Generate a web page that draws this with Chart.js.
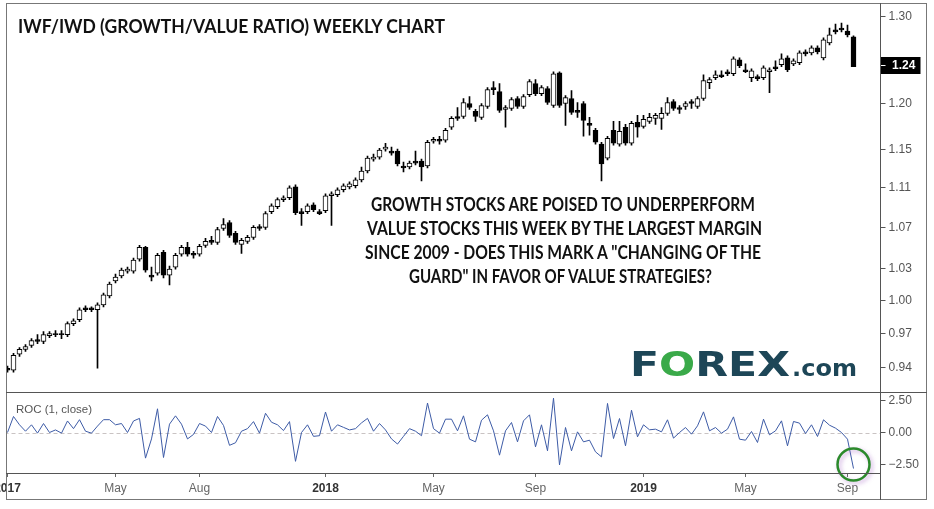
<!DOCTYPE html>
<html>
<head>
<meta charset="utf-8">
<script src="https://cdn.jsdelivr.net/npm/chart.js@4.4.0/dist/chart.umd.min.js"></script>
<style>
  html, body { margin: 0; padding: 0; background: #fff; overflow: hidden; }
  #wrap { position: relative; width: 934px; height: 509px; }
  .pane { position: absolute; left: 0; width: 934px; }
  .line { position: absolute; background: #555; pointer-events: none; }
  .txt { position: absolute; white-space: nowrap; transform-origin: 0 0; pointer-events: none; }
  .note { font: bold 18px/18px Lato, "Open Sans", sans-serif; color: #111; }
</style>
</head>
<body>
<div id="wrap">
  <div class="pane" style="top:0;height:392px"><canvas id="priceChart"></canvas></div>
  <div class="pane" style="top:392px;height:117px"><canvas id="rocChart"></canvas></div>

  <!-- frame + panel lines -->
  <div style="position:absolute;left:0;top:0;width:6px;height:473px;background:#fff"></div>
  <div style="position:absolute;left:6px;top:3px;width:921px;height:497px;border:1px solid #777;box-sizing:border-box;pointer-events:none"></div>
  <div class="line" style="left:880px;top:3px;width:1px;height:497px"></div>
  <div class="line" style="left:6px;top:392px;width:921px;height:1px"></div>
  <div class="line" style="left:6px;top:473px;width:874px;height:1px"></div>

  <!-- texts -->
  <div id="title" class="txt note" style="left:18px;top:17px">IWF/IWD (GROWTH/VALUE RATIO) WEEKLY CHART</div>
  <div id="n1" class="txt note" style="left:371px;top:195px">GROWTH STOCKS ARE POISED TO UNDERPERFORM</div>
  <div id="n2" class="txt note" style="left:367px;top:219px">VALUE STOCKS THIS WEEK BY THE LARGEST MARGIN</div>
  <div id="n3" class="txt note" style="left:365px;top:243px">SINCE 2009 - DOES THIS MARK A "CHANGING OF THE</div>
  <div id="n4" class="txt note" style="left:409px;top:267px">GUARD" IN FAVOR OF VALUE STRATEGIES?</div>
  <div id="rocLabel" class="txt" style="left:16px;top:403px;font:11px/12px 'Liberation Sans', Arial, sans-serif;color:#555">ROC (1, close)</div>

  <div id="logoMain" class="txt" style="left:630px;top:348px;font:bold 33px/33px 'DejaVu Sans', sans-serif;color:#1d4657">F<span style="color:#3aaa49">O</span>REX</div>
  <div id="logoCom" class="txt" style="left:792px;top:357px;font:bold 23px/23px 'DejaVu Sans', sans-serif;color:#1d4657">.com</div>
</div>

<script>
// weekly candles, Jan 2017 - Sep 2019
const opens = [
  0.9396, 0.9379, 0.9518, 0.9561, 0.9596, 0.9649, 0.9631, 0.9684, 0.9702, 0.9702,
  0.9693, 0.9791, 0.9827, 0.9936, 0.9936, 0.9918, 0.9963, 1.0045, 1.0185, 1.0232,
  1.0279, 1.0279, 1.0392, 1.0507, 1.0241, 1.0260, 1.0459, 1.0241, 1.0316, 1.0440,
  1.0507, 1.0449, 1.0440, 1.0526, 1.0575, 1.0556, 1.0692, 1.0751, 1.0643, 1.0536,
  1.0565, 1.0604, 1.0711, 1.0702, 1.0860, 1.0909, 1.0980, 1.1000, 1.1111, 1.0860,
  1.0860, 1.0929, 1.0860, 1.0869, 1.1020, 1.1030, 1.1081, 1.1111, 1.1122, 1.1183,
  1.1275, 1.1400, 1.1421, 1.1505, 1.1484, 1.1484, 1.1327, 1.1317, 1.1379, 1.1379,
  1.1327, 1.1589, 1.1611, 1.1600, 1.1740, 1.1858, 1.1858, 1.2001, 1.1913, 1.1848,
  1.1968, 1.2179, 1.2134, 1.1935, 1.1946, 1.2056, 1.1968, 1.2100, 1.2223, 1.2111,
  1.2167, 1.1979, 1.2347, 1.2001, 1.2056, 1.1924, 1.2001, 1.1783, 1.1707, 1.1558,
  1.1410, 1.1707, 1.1558, 1.1740, 1.1568, 1.1793, 1.1750, 1.1804, 1.1837, 1.1837,
  1.1891, 1.2023, 1.1957, 1.1968, 1.2023, 1.1968, 1.2056, 1.2234, 1.2291, 1.2324,
  1.2358, 1.2335, 1.2495, 1.2381, 1.2291, 1.2302, 1.2291, 1.2358, 1.2415, 1.2438,
  1.2518, 1.2449, 1.2461, 1.2588, 1.2576, 1.2634, 1.2518, 1.2692, 1.2845, 1.2868,
  1.2833, 1.2763
];
const highs = [
  0.9414, 0.9526, 0.9578, 0.9604, 0.9657, 0.9693, 0.9720, 0.9720, 0.9729, 0.9729,
  0.9809, 0.9836, 0.9936, 0.9954, 0.9945, 0.9982, 1.0073, 1.0176, 1.0251, 1.0307,
  1.0316, 1.0402, 1.0526, 1.0517, 1.0316, 1.0449, 1.0478, 1.0326, 1.0449, 1.0526,
  1.0556, 1.0468, 1.0536, 1.0594, 1.0614, 1.0702, 1.0790, 1.0770, 1.0663, 1.0594,
  1.0624, 1.0721, 1.0731, 1.0860, 1.0939, 1.1000, 1.1020, 1.1122, 1.1132, 1.0889,
  1.0939, 1.0949, 1.0879, 1.1040, 1.1060, 1.1101, 1.1142, 1.1162, 1.1203, 1.1317,
  1.1431, 1.1452, 1.1515, 1.1568, 1.1526, 1.1505, 1.1369, 1.1379, 1.1484, 1.1400,
  1.1600, 1.1632, 1.1643, 1.1729, 1.1858, 1.1957, 1.2056, 1.2078, 1.1935, 1.2001,
  1.2179, 1.2246, 1.2223, 1.1979, 1.2067, 1.2078, 1.2100, 1.2268, 1.2268, 1.2201,
  1.2190, 1.2358, 1.2358, 1.2089, 1.2145, 1.2012, 1.2023, 1.1848, 1.1729, 1.1579,
  1.1643, 1.1804, 1.1804, 1.1772, 1.1804, 1.1869, 1.1869, 1.1891, 1.1891, 1.1957,
  1.2067, 1.2045, 1.1979, 1.2023, 1.2045, 1.2078, 1.2324, 1.2291, 1.2370, 1.2370,
  1.2381, 1.2530, 1.2518, 1.2449, 1.2393, 1.2324, 1.2427, 1.2404, 1.2484, 1.2565,
  1.2541, 1.2507, 1.2599, 1.2611, 1.2657, 1.2657, 1.2751, 1.2868, 1.2916, 1.2928,
  1.2904, 1.2774
];
const lows = [
  0.9362, 0.9362, 0.9500, 0.9544, 0.9578, 0.9613, 0.9613, 0.9666, 0.9675, 0.9657,
  0.9675, 0.9773, 0.9809, 0.9900, 0.9900, 0.9396, 0.9945, 1.0027, 1.0166, 1.0213,
  1.0260, 1.0260, 1.0373, 1.0269, 1.0185, 1.0241, 1.0213, 1.0148, 1.0298, 1.0421,
  1.0421, 1.0402, 1.0421, 1.0507, 1.0536, 1.0536, 1.0672, 1.0604, 1.0536, 1.0449,
  1.0546, 1.0585, 1.0672, 1.0682, 1.0840, 1.0889, 1.0960, 1.0980, 1.0830, 1.0721,
  1.0840, 1.0860, 1.0830, 1.0850, 1.0721, 1.1010, 1.1060, 1.1091, 1.1101, 1.1162,
  1.1254, 1.1379, 1.1400, 1.1484, 1.1442, 1.1327, 1.1265, 1.1296, 1.1338, 1.1173,
  1.1306, 1.1568, 1.1558, 1.1579, 1.1718, 1.1815, 1.1837, 1.1935, 1.1804, 1.1826,
  1.1946, 1.2100, 1.1902, 1.1740, 1.1924, 1.1946, 1.1946, 1.2078, 1.2089, 1.2089,
  1.1990, 1.1957, 1.1957, 1.1761, 1.1880, 1.1848, 1.1643, 1.1654, 1.1558, 1.1173,
  1.1390, 1.1547, 1.1537, 1.1547, 1.1547, 1.1632, 1.1729, 1.1783, 1.1772, 1.1718,
  1.1869, 1.1924, 1.1891, 1.1935, 1.1946, 1.1946, 1.2034, 1.2167, 1.2268, 1.2291,
  1.2313, 1.2313, 1.2404, 1.2347, 1.2246, 1.2257, 1.2268, 1.2122, 1.2370, 1.2415,
  1.2358, 1.2427, 1.2438, 1.2541, 1.2553, 1.2565, 1.2495, 1.2669, 1.2798, 1.2821,
  1.2763, 1.2415
];
const closes = [
  0.9379, 0.9509, 0.9561, 0.9587, 0.9640, 0.9631, 0.9693, 0.9702, 0.9693, 0.9693,
  0.9791, 0.9818, 0.9918, 0.9918, 0.9918, 0.9963, 1.0055, 1.0157, 1.0222, 1.0288,
  1.0298, 1.0383, 1.0507, 1.0288, 1.0222, 1.0430, 1.0241, 1.0298, 1.0430, 1.0507,
  1.0440, 1.0430, 1.0517, 1.0565, 1.0556, 1.0682, 1.0731, 1.0624, 1.0556, 1.0575,
  1.0604, 1.0702, 1.0692, 1.0840, 1.0919, 1.0980, 1.1000, 1.1101, 1.0850, 1.0840,
  1.0919, 1.0879, 1.0840, 1.1020, 1.1040, 1.1081, 1.1122, 1.1142, 1.1183, 1.1275,
  1.1410, 1.1421, 1.1494, 1.1526, 1.1463, 1.1348, 1.1306, 1.1358, 1.1358, 1.1317,
  1.1579, 1.1611, 1.1589, 1.1707, 1.1837, 1.1837, 1.2012, 1.1957, 1.1858, 1.1979,
  1.2156, 1.2156, 1.1924, 1.1957, 1.2045, 1.1968, 1.2078, 1.2246, 1.2111, 1.2179,
  1.2012, 1.2335, 1.1979, 1.2067, 1.1902, 1.1902, 1.1815, 1.1761, 1.1579, 1.1348,
  1.1622, 1.1568, 1.1696, 1.1568, 1.1783, 1.1740, 1.1826, 1.1848, 1.1869, 1.1891,
  1.2012, 1.1946, 1.1935, 1.2001, 1.2001, 1.2056, 1.2257, 1.2268, 1.2324, 1.2302,
  1.2335, 1.2507, 1.2427, 1.2358, 1.2370, 1.2279, 1.2404, 1.2381, 1.2393, 1.2507,
  1.2381, 1.2484, 1.2576, 1.2565, 1.2634, 1.2588, 1.2727, 1.2786, 1.2821, 1.2845,
  1.2786, 1.2415
];
// ROC(1, close)
const roc = [
  0.0, 1.25, 0.6, 0.1, 0.6, -0.05, 0.7, 0.0, 0.2, -0.05,
  0.9, 0.3, 1.0, 0.1, -0.05, 0.5, 1.0, 1.0, 0.6, 0.7,
  0.0, 0.9, 1.1, -2.0, -0.5, 1.85, -1.95, 0.65, 1.3, 0.65,
  -0.5, -0.15, 0.7, 0.5, 0.0, 1.25, 0.55, -1.0, -0.8, 0.1,
  0.3, 0.85, -0.05, 1.5, 0.8, 0.6, 0.15, 0.85, -2.25, 0.0,
  0.6, -0.3, -0.25, 1.6, 0.1, 0.6, 0.4, 0.2, 0.3, 0.75,
  1.1, 0.1, 0.7, 0.2, -0.5, -0.9, -0.3, 0.3, 0.1, -0.25,
  2.3, 0.3, -0.05, 1.04, 1.04, 0.13, 1.3, -0.52, -0.73, 0.96,
  1.38, 0.13, -1.77, 0.13, 0.78, -0.73, 0.91, 1.38, -1.12, 0.6,
  -1.43, 2.68, -2.53, 0.39, -1.43, 0.05, -0.73, -0.6, -1.51, -1.9,
  2.27, -0.47, 1.09, -1.04, 1.74, -0.34, 0.6, 0.21, 0.26, 0.05,
  0.99, -0.44, 0.0, 0.39, -0.13, 0.52, 1.61, 0.13, 0.39, -0.05,
  0.26, 1.22, -0.52, -0.6, 0.08, -0.78, 1.04, -0.18, 0.13, 0.91,
  -1.04, 0.86, 0.73, -0.08, 0.6, -0.31, 0.99, 0.57, 0.34, 0.0,
  -0.52, -2.81
];

// axis ticks
const priceTicks = [0.94, 0.97, 1.00, 1.03, 1.07, 1.11, 1.15, 1.20, 1.24, 1.30];
const rocTicks = [-2.5, 0, 2.5];
const tickIdx = [0, 18, 32, 53, 71, 88, 106, 123, 140];
const tickText = ['2017', 'May', 'Aug', '2018', 'May', 'Sep', '2019', 'May', 'Sep'];

const PAD_WEEKS = 4; // empty space right of the last bar
const weeks = Array.from({ length: closes.length + PAD_WEEKS }, (_, i) => i);
const AXIS_FONT = '"Liberation Sans", Arial, sans-serif';
const PLOT_LEFT = 4.5;
const AXIS_W = 53.5;

const isYear = i => { const k = tickIdx.indexOf(i); return k >= 0 && /^\d{4}$/.test(tickText[k]); };

// keep the plot area where we put it (no room for edge labels)
function fixY(s) { s.width = AXIS_W; s.paddingTop = 0; s.paddingBottom = 0; }
function fixX(s) { s.height = 36; s.paddingLeft = 0; s.paddingRight = 0; }

// --- price panel ---
const wicks = lows.map((l, i) => [l, highs[i]]);
const bodies = opens.map((o, i) => [o, closes[i]]);
const bodyColors = opens.map((o, i) => closes[i] >= o ? '#ffffff' : '#000000');

const lastPriceTag = {
  id: 'lastPriceTag',
  afterDraw(chart) {
    const last = closes[closes.length - 1];
    const y = Math.round(chart.scales.y.getPixelForValue(last));
    const x0 = chart.chartArea.right;
    const ctx = chart.ctx;
    ctx.save();
    ctx.fillStyle = '#000';
    ctx.fillRect(x0, y - 10, 40, 17);
    ctx.fillStyle = '#fff';
    ctx.fillRect(x0, y - 2, 5, 1);
    ctx.font = 'bold 12px ' + AXIS_FONT;
    ctx.textBaseline = 'middle';
    ctx.fillText(last.toFixed(2), x0 + 11.5, y - 1);
    ctx.restore();
  }
};

new Chart(document.getElementById('priceChart'), {
  type: 'bar',
  data: {
    labels: weeks,
    datasets: [
      { data: bodies, backgroundColor: bodyColors, borderColor: '#000', borderWidth: 1,
        borderSkipped: false, barThickness: 5, minBarLength: 1, grouped: false, order: 0 },
      { data: wicks, backgroundColor: '#000', barThickness: 1, grouped: false, order: 1 }
    ]
  },
  options: {
    responsive: true,
    maintainAspectRatio: false,
    animation: false,
    layout: { padding: { left: PLOT_LEFT, top: 3, right: 0, bottom: 0 } },
    plugins: { legend: { display: false }, tooltip: { enabled: false } },
    scales: {
      x: { display: false, offset: true },
      y: {
        type: 'logarithmic',
        position: 'right',
        min: 0.9192,
        max: 1.3169,
        bounds: 'data',
        afterBuildTicks: s => { s.ticks = priceTicks.map(v => ({ value: v })); },
        afterFit: fixY,
        grid: { drawOnChartArea: false, tickLength: 5, tickColor: '#555' },
        border: { display: false },
        ticks: { color: '#555', padding: 3, font: { family: AXIS_FONT, size: 12 }, callback: v => Number(v).toFixed(2) }
      }
    }
  },
  plugins: [lastPriceTag]
});

// --- ROC panel ---
const rocExtras = {
  id: 'rocExtras',
  beforeDatasetsDraw(chart) {
    const { ctx, chartArea } = chart;
    const y = Math.round(chart.scales.y.getPixelForValue(0)) + 0.5;
    ctx.save();
    ctx.strokeStyle = '#c9c3c3';
    ctx.lineWidth = 1;
    ctx.setLineDash([4, 3]);
    ctx.beginPath();
    ctx.moveTo(chartArea.left, y);
    ctx.lineTo(chartArea.right, y);
    ctx.stroke();
    ctx.restore();
  },
  afterDatasetsDraw(chart) {
    const pt = chart.getDatasetMeta(0).data[roc.length - 1];
    const ctx = chart.ctx;
    ctx.save();
    ctx.shadowColor = 'rgba(170, 110, 200, 0.55)';
    ctx.shadowBlur = 4;
    ctx.shadowOffsetX = 2;
    ctx.shadowOffsetY = 2;
    ctx.strokeStyle = '#2b8a2b';
    ctx.lineWidth = 2.5;
    ctx.beginPath();
    ctx.arc(pt.x, pt.y - 4, 16, 0, Math.PI * 2);
    ctx.stroke();
    ctx.restore();
  }
};

new Chart(document.getElementById('rocChart'), {
  type: 'line',
  data: {
    labels: weeks,
    datasets: [{ data: roc, borderColor: '#3d5ba6', borderWidth: 1, pointRadius: 0, tension: 0, fill: false }]
  },
  options: {
    responsive: true,
    maintainAspectRatio: false,
    animation: false,
    layout: { padding: { left: PLOT_LEFT, top: 0, right: 0, bottom: 0 } },
    plugins: { legend: { display: false }, tooltip: { enabled: false } },
    scales: {
      x: {
        offset: true,
        afterFit: fixX,
        grid: { drawOnChartArea: false, tickLength: 4, tickColor: c => tickIdx.includes(c.index) ? '#666' : 'rgba(0,0,0,0)' },
        border: { display: false },
        ticks: {
          autoSkip: false, maxRotation: 0, minRotation: 0, padding: 4,
          callback: (v, i) => { const k = tickIdx.indexOf(i); return k < 0 ? '' : tickText[k]; },
          color: c => isYear(c.index) ? '#333' : '#666',
          font: c => ({ family: AXIS_FONT, size: 12, weight: isYear(c.index) ? 'bold' : 'normal' })
        }
      },
      y: {
        position: 'right',
        min: -3.16,
        max: 3.16,
        bounds: 'data',
        afterBuildTicks: s => { s.ticks = rocTicks.map(v => ({ value: v })); },
        afterFit: fixY,
        grid: { drawOnChartArea: false, tickLength: 5, tickColor: '#555' },
        border: { display: false },
        ticks: {
          color: '#555', padding: 3, font: { family: AXIS_FONT, size: 12 },
          callback: v => (v < 0 ? '\u2212' : '') + Math.abs(v).toFixed(2)
        }
      }
    }
  },
  plugins: [rocExtras]
});

// squeeze text blocks to the widths they take in the original
function fitWidth(id, w) {
  const el = document.getElementById(id);
  el.style.transform = 'scaleX(' + (w / el.getBoundingClientRect().width) + ')';
}
fitWidth('title', 427);
fitWidth('n1', 384);
fitWidth('n2', 395);
fitWidth('n3', 396);
fitWidth('n4', 303);
fitWidth('rocLabel', 76);
fitWidth('logoMain', 160);
fitWidth('logoCom', 65);
</script>
</body>
</html>
